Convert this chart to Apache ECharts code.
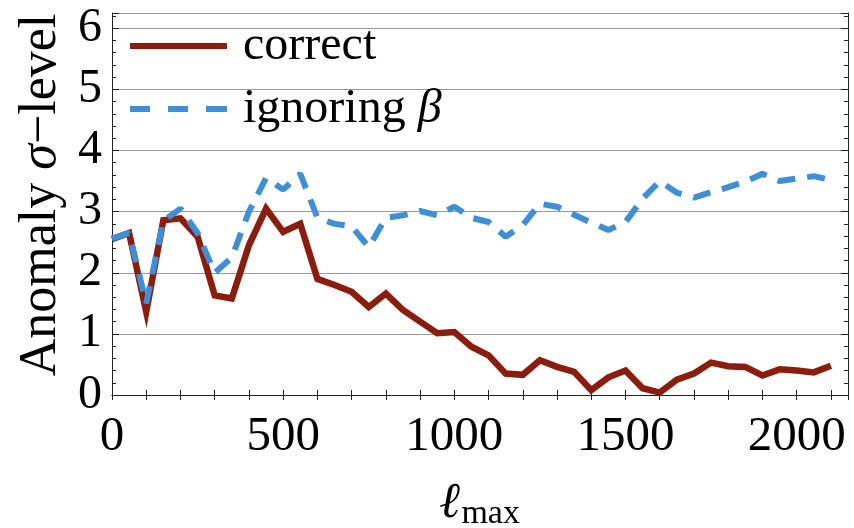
<!DOCTYPE html>
<html>
<head>
<meta charset="utf-8">
<script src="https://cdn.jsdelivr.net/npm/echarts@6/dist/echarts.min.js"></script>
<style>
  html, body { margin: 0; padding: 0; background: #fff; }
  #chart { width: 854px; height: 528px; }
</style>
</head>
<body>
<div id="chart"></div>
<script>
// l_max values
var lmax = [0, 50, 100, 150, 200, 250, 300, 350, 400, 450, 500, 550, 600, 650, 700, 750, 800, 850, 900, 950,
  1000, 1050, 1100, 1150, 1200, 1250, 1300, 1350, 1400, 1450, 1500, 1550, 1600, 1650, 1700, 1750, 1800, 1850,
  1900, 1950, 2000, 2050, 2100];
// correct
var correct = [2.55, 2.65, 1.36, 2.86, 2.89, 2.59, 1.63, 1.58, 2.45, 3.05, 2.67, 2.8, 1.9, 1.8, 1.69, 1.44, 1.66,
  1.39, 1.2, 1.01, 1.03, 0.79, 0.65, 0.35, 0.33, 0.57, 0.46, 0.38, 0.08, 0.29, 0.4, 0.11, 0.04, 0.25, 0.35, 0.53,
  0.47, 0.46, 0.32, 0.42, 0.4, 0.37, 0.48];
// ignoring beta
var ignoring = [2.56, 2.65, 1.5, 2.85, 3.05, 2.65, 2.0, 2.25, 3.0, 3.55, 3.36, 3.62, 2.9, 2.8, 2.76, 2.42, 2.9,
  2.94, 3.01, 2.94, 3.08, 2.9, 2.83, 2.59, 2.78, 3.13, 3.08, 2.95, 2.82, 2.7, 2.83, 3.21, 3.5, 3.31, 3.23, 3.32,
  3.4, 3.49, 3.62, 3.5, 3.54, 3.58, 3.52];
var xTicks = [0, 500, 1000, 1500, 2000];
var yTicks = [0, 1, 2, 3, 4, 5, 6];

var font = "Liberation Serif";
var red = "#8b1d0f", blue = "#3f8fd6";

function pairs(vals) {
  var out = [];
  for (var i = 0; i < lmax.length; i++) {
    out.push([lmax[i], vals[i]]);
  }
  return out;
}

var chart = echarts.init(document.getElementById("chart"));

var frameLine = { show: true, lineStyle: { color: "#222", width: 1 } };

chart.setOption({
  animation: false,
  textStyle: { fontFamily: font },
  grid: { left: 112, right: 6, top: 13, bottom: 133, containLabel: false, outerBoundsMode: "none" },
  legend: {
    orient: "vertical",
    left: 130,
    top: 18,
    padding: 0,
    itemWidth: 97,
    itemHeight: 6,
    itemGap: 7,
    textStyle: {
      fontFamily: font, fontSize: 48, color: "#000", lineHeight: 56, padding: [0, 0, 0, 11],
      rich: {
        g: { fontFamily: font, fontSize: 48, fontStyle: "italic", color: "#000" }
      }
    },
    formatter: function (name) {
      if (name === "ignoring") return "ignoring {g|β}";
      return name;
    },
    data: [
      { name: "correct", icon: "rect", itemStyle: { color: red } },
      { name: "ignoring", icon: "path://M0,0h20v6h-20z M38,0h20v6h-20z M76,0h21v6h-21z", itemStyle: { color: blue } }
    ]
  },
  xAxis: [{
    type: "value", position: "bottom", min: 0, max: 2150, interval: 100,
    axisLine: frameLine,
    axisTick: { show: true, inside: true, length: 5, lineStyle: { color: "#222" } },
    axisLabel: {
      fontFamily: font, fontSize: 49, color: "#000", margin: 18,
      formatter: function (v) { return xTicks.indexOf(v) >= 0 ? String(v) : ""; }
    },
    splitLine: { show: false },
    name: "{l|ℓ}{s|max}",
    nameLocation: "middle",
    nameGap: 84,
    nameTextStyle: {
      rich: {
        l: { fontFamily: font, fontSize: 50, fontStyle: "italic", fontWeight: "bold", color: "#000",
          verticalAlign: "bottom", padding: [0, 0, 2, 0] },
        s: { fontFamily: font, fontSize: 34, color: "#000", verticalAlign: "bottom" }
      }
    }
  }, {
    type: "value", position: "top", min: 0, max: 2150, interval: 100,
    axisLine: frameLine,
    axisTick: { show: true, inside: true, length: 5, lineStyle: { color: "#222" } },
    axisLabel: { show: false },
    splitLine: { show: false }
  }],
  yAxis: [{
    type: "value", position: "left", min: 0, max: 6.25, interval: 1,
    axisLine: frameLine,
    axisTick: { show: true, inside: true, length: 7, lineStyle: { color: "#222" } },
    axisLabel: {
      fontFamily: font, fontSize: 48, color: "#000", margin: 10,
      formatter: function (v) { return yTicks.indexOf(v) >= 0 ? String(v) : ""; }
    },
    splitLine: { show: true, lineStyle: { color: "#9a9a9a", width: 1.2 } },
    name: "Anomaly {s|σ}−level",
    nameLocation: "middle",
    nameRotate: 90,
    nameGap: 42,
    nameTextStyle: {
      fontFamily: font, fontSize: 52, color: "#000", padding: [0, 0, 0, 18],
      rich: { s: { fontFamily: font, fontSize: 52, fontStyle: "italic", color: "#000" } }
    }
  }, {
    type: "value", position: "left", min: 0, max: 6.25, interval: 0.2,
    axisLine: { show: false },
    axisTick: { show: true, inside: true, length: 4, lineStyle: { color: "#222" } },
    axisLabel: { show: false },
    splitLine: { show: false }
  }, {
    type: "value", position: "right", min: 0, max: 6.25, interval: 0.2,
    axisLine: frameLine,
    axisTick: { show: true, inside: true, length: 4, lineStyle: { color: "#222" } },
    axisLabel: { show: false },
    splitLine: { show: false }
  }, {
    type: "value", position: "right", min: 0, max: 6.25, interval: 1,
    axisLine: { show: false },
    axisTick: { show: true, inside: true, length: 7, lineStyle: { color: "#222" } },
    axisLabel: { show: false },
    splitLine: { show: false }
  }],
  series: [{
    name: "correct",
    type: "line",
    xAxisIndex: 0,
    yAxisIndex: 0,
    symbol: "none",
    showSymbol: false,
    itemStyle: { color: red },
    lineStyle: { color: red, width: 6.5, join: "miter" },
    data: pairs(correct)
  }, {
    name: "ignoring",
    type: "line",
    xAxisIndex: 0,
    yAxisIndex: 0,
    symbol: "none",
    showSymbol: false,
    itemStyle: { color: blue },
    lineStyle: { color: blue, width: 6, type: [18, 12], cap: "butt" },
    data: pairs(ignoring)
  }]
});
</script>
</body>
</html>
